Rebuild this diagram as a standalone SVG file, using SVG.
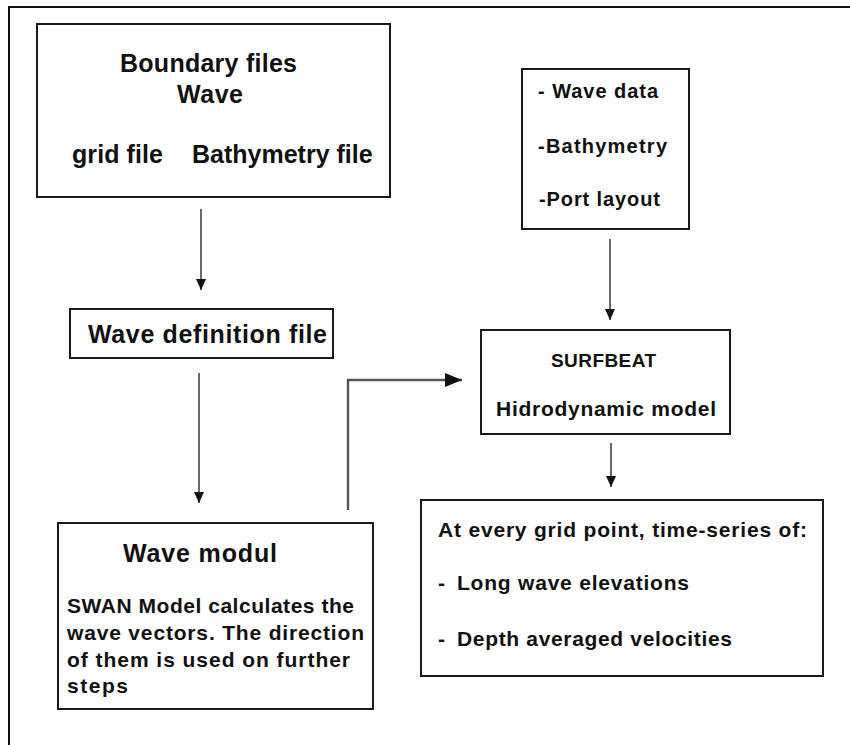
<svg xmlns="http://www.w3.org/2000/svg" width="850" height="745" viewBox="0 0 850 745">
<style>
.box{fill:#fff;stroke:#1a1a1a;stroke-width:2}
.t{font-family:"Liberation Sans",Arial,sans-serif;font-weight:bold;fill:#111}
.big{font-size:25px}
.med{font-size:21px}
.sm{font-size:20px}
.c{stroke:#444;stroke-width:1.6;fill:none}
.c2{stroke:#555;stroke-width:2.4;fill:none}
</style>
<defs>
<marker id="ah" markerUnits="userSpaceOnUse" markerWidth="12" markerHeight="12" refX="6" refY="11" orient="0" viewBox="0 0 12 12">
<path d="M1,0 L11,0 L6,11 z" fill="#111"/>
</marker>
<marker id="ahr" markerUnits="userSpaceOnUse" markerWidth="18" markerHeight="16" refX="17" refY="8" orient="0" viewBox="0 0 18 16">
<path d="M0,1 L17,8 L0,15 z" fill="#111"/>
</marker>
</defs>
<rect width="850" height="745" fill="#fff"/>
<path d="M9,745 V7 H850" fill="none" stroke="#111" stroke-width="2"/>
<g id="connectors">
<line class="c" x1="201" y1="209" x2="201" y2="290" marker-end="url(#ah)"/>
<line class="c" x1="199" y1="373" x2="199" y2="503" marker-end="url(#ah)"/>
<polyline class="c2" points="348,510 348,380 462,380" marker-end="url(#ahr)"/>
<line class="c" x1="610" y1="239" x2="610" y2="320" marker-end="url(#ah)"/>
<line class="c" x1="611" y1="443" x2="611" y2="487" marker-end="url(#ah)"/>
</g>
<g id="boundary">
<rect class="box" x="37" y="24" width="353" height="173"/>
<text class="t big" x="120" y="72" textLength="177" lengthAdjust="spacing">Boundary files</text>
<text class="t big" x="177" y="103" textLength="66" lengthAdjust="spacing">Wave</text>
<text class="t big" x="72" y="163" textLength="91" lengthAdjust="spacing">grid file</text>
<text class="t big" x="192" y="163">Bathymetry file</text>
</g>
<g id="wavedef">
<rect class="box" x="70" y="309" width="263" height="49"/>
<text class="t big" x="88" y="343" textLength="239" lengthAdjust="spacing">Wave definition file</text>
</g>
<g id="inputs">
<rect class="box" x="522" y="69" width="167" height="160"/>
<text class="t sm" x="538" y="98" textLength="120" lengthAdjust="spacing">- Wave data</text>
<text class="t sm" x="538" y="153" textLength="129" lengthAdjust="spacing">-Bathymetry</text>
<text class="t sm" x="539" y="206" textLength="121" lengthAdjust="spacing">-Port layout</text>
</g>
<g id="surfbeat">
<rect class="box" x="481" y="330" width="249" height="104"/>
<text class="t" font-size="19" x="551" y="367" textLength="105" lengthAdjust="spacing">SURFBEAT</text>
<text class="t med" x="496" y="416" textLength="220" lengthAdjust="spacing">Hidrodynamic model</text>
</g>
<g id="wavemodul">
<rect class="box" x="58" y="523" width="315" height="186"/>
<text class="t big" x="123" y="562" textLength="154" lengthAdjust="spacing">Wave modul</text>
<text class="t med" x="67" y="613" textLength="287" lengthAdjust="spacing">SWAN Model calculates the</text>
<text class="t med" x="67" y="640" textLength="297" lengthAdjust="spacing">wave vectors. The direction</text>
<text class="t med" x="67" y="667" textLength="283" lengthAdjust="spacing">of them is used on further</text>
<text class="t med" x="67" y="693" textLength="61" lengthAdjust="spacing">steps</text>
</g>
<g id="results">
<rect class="box" x="421" y="500" width="402" height="176"/>
<text class="t med" x="438" y="537" textLength="369" lengthAdjust="spacing">At every grid point, time-series of:</text>
<text class="t med" x="438" y="590">-</text>
<text class="t med" x="457" y="590" textLength="232" lengthAdjust="spacing">Long wave elevations</text>
<text class="t med" x="438" y="646">-</text>
<text class="t med" x="457" y="646" textLength="275" lengthAdjust="spacing">Depth averaged velocities</text>
</g>
</svg>
